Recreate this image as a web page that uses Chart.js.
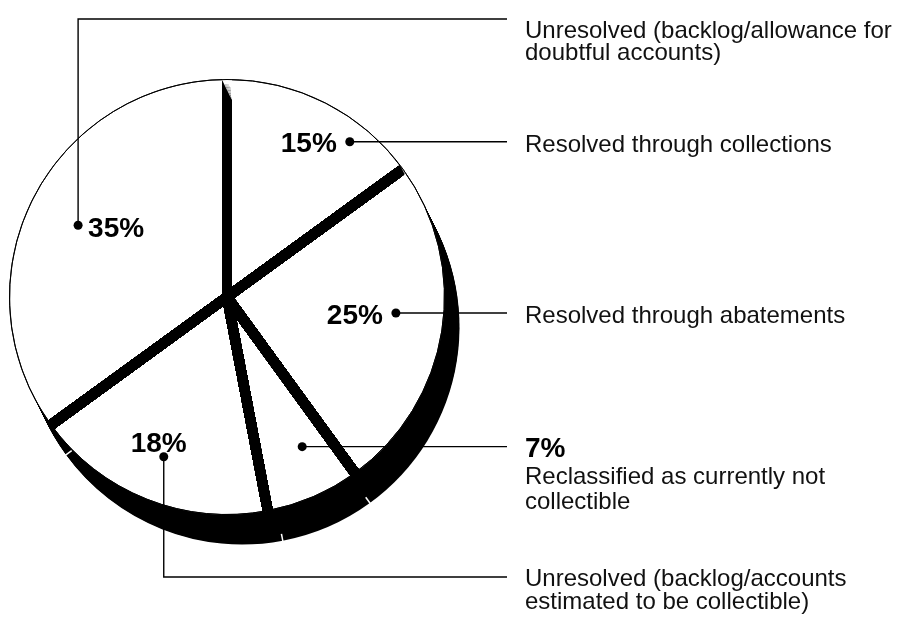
<!DOCTYPE html>
<html>
<head>
<meta charset="utf-8">
<script src="https://cdn.jsdelivr.net/npm/chart.js@4/dist/chart.umd.min.js"></script>
<style>
  html, body { margin: 0; padding: 0; background: #fff; }
  #pie { display: block; }
</style>
</head>
<body>
<canvas id="pie" width="902" height="620"></canvas>
<script>
// Parts of the pie, clockwise from 12 o'clock
const categories = [
  'Resolved through collections',
  'Resolved through abatements',
  'Reclassified as currently not collectible',
  'Unresolved (backlog/accounts estimated to be collectible)',
  'Unresolved (backlog/allowance for doubtful accounts)'
];
const shares = [15, 25, 7, 18, 35];
const percentLabels = ['15%', '25%', '7%', '18%', '35%'];
// callout text on the right, one list of lines per part
const calloutLines = [
  ['Resolved through collections'],
  ['Resolved through abatements'],
  ['Reclassified as currently not', 'collectible'],
  ['Unresolved (backlog/accounts', 'estimated to be collectible)'],
  ['Unresolved (backlog/allowance for', 'doubtful accounts)']
];

// --- look and layout ---
const FONT = '"Liberation Sans", Arial, Helvetica, sans-serif';
const DEPTH = { x: 15, y: 30 };   // how far the black "side" of the pie drops
const GAP = 10;                   // width of the black cuts between slices
const TEXT_X = 525;               // left edge of the callout column
const LEADER_END = 507;
// where the dot sits in each slice: [fraction of the slice angle, fraction of the radius]
const dotSpots = [[0.71, 0.91], [0.46, 0.78], [0.37, 0.77], [0.5, 0.79], [0.49, 0.76]];
const callouts = [
  { pct: { align: 'right', dx: -13, dy: 10 }, route: 'across', textDy: 10, lineH: 23 },
  { pct: { align: 'right', dx: -13, dy: 11 }, route: 'across', textDy: 10, lineH: 23 },
  { pct: null, route: 'across', textDy: 10, lineH: 25, head: true },
  { pct: { align: 'center', dx: -5, dy: -5 }, route: 'down', turnY: 577, textDy: 9, lineH: 23 },
  { pct: { align: 'left', dx: 10, dy: 12 }, route: 'up', turnY: 19, textDy: 19, lineH: 22 }
];

function arcGeom(el) {
  return el.getProps(['x', 'y', 'startAngle', 'endAngle', 'outerRadius'], true);
}

// black extruded side under the slices, cuts between slices and small notches
const depthPie = {
  id: 'depthPie',
  beforeDatasetsDraw(chart) {
    const ctx = chart.ctx;
    const arcs = chart.getDatasetMeta(0).data.map(arcGeom);
    ctx.save();
    ctx.fillStyle = '#000';
    const steps = 40;
    for (let i = 1; i <= steps; i++) {
      const ox = DEPTH.x * i / steps, oy = DEPTH.y * i / steps;
      arcs.forEach(a => {
        ctx.beginPath();
        ctx.moveTo(a.x + ox, a.y + oy);
        ctx.arc(a.x + ox, a.y + oy, a.outerRadius, a.startAngle, a.endAngle);
        ctx.closePath();
        ctx.fill();
      });
    }
    ctx.restore();
  },
  afterDatasetsDraw(chart) {
    const ctx = chart.ctx;
    const arcs = chart.getDatasetMeta(0).data.map(arcGeom);

    // the cuts: we see the dropped side of the pie through them
    arcs.forEach(a => {
      const R = a.outerRadius;
      const dx = Math.cos(a.startAngle), dy = Math.sin(a.startAngle);
      const nx = -dy * GAP / 2, ny = dx * GAP / 2;
      const strip = (ox, oy) => {
        ctx.moveTo(a.x + ox + nx, a.y + oy + ny);
        ctx.lineTo(a.x + ox + R * dx + nx, a.y + oy + R * dy + ny);
        ctx.lineTo(a.x + ox + R * dx - nx, a.y + oy + R * dy - ny);
        ctx.lineTo(a.x + ox - nx, a.y + oy - ny);
        ctx.closePath();
      };
      ctx.save();
      ctx.beginPath();
      strip(0, 0);
      ctx.clip();
      ctx.fillStyle = '#fff';
      ctx.fillRect(0, 0, chart.width, chart.height);
      ctx.fillStyle = '#000';
      const steps = 120;
      for (let i = 1; i <= steps; i++) {
        const t = 3 * i / steps;
        const ox = DEPTH.x * t, oy = DEPTH.y * t;
        ctx.beginPath();
        ctx.arc(a.x + ox, a.y + oy, R, 0, Math.PI * 2);
        strip(ox, oy);
        ctx.fill('evenodd');
      }
      ctx.restore();
    });

    // thin outline round the top face
    ctx.save();
    ctx.strokeStyle = '#000';
    ctx.lineWidth = 1;
    arcs.forEach(a => {
      ctx.beginPath();
      ctx.arc(a.x, a.y, a.outerRadius, a.startAngle, a.endAngle);
      ctx.stroke();
    });

    // small white notches where the side pieces meet
    ctx.strokeStyle = '#fff';
    ctx.lineWidth = 1.5;
    arcs.forEach(a => {
      const R = a.outerRadius;
      const dx = Math.cos(a.startAngle), dy = Math.sin(a.startAngle);
      const px = a.x + R * dx + DEPTH.x, py = a.y + R * dy + DEPTH.y;
      if (Math.hypot(px - a.x, py - a.y) <= R) return;
      ctx.beginPath();
      ctx.moveTo(px + dx, py + dy);
      ctx.lineTo(px - 7 * dx, py - 7 * dy);
      ctx.stroke();
    });
    ctx.restore();
  },
  afterDraw(chart) {
    const ctx = chart.ctx;
    const arcs = chart.getDatasetMeta(0).data.map(arcGeom);
    ctx.save();
    ctx.strokeStyle = '#000';
    ctx.fillStyle = '#000';
    ctx.lineWidth = 1.4;
    ctx.textBaseline = 'alphabetic';

    arcs.forEach((a, i) => {
      const c = callouts[i];
      const ang = a.startAngle + (a.endAngle - a.startAngle) * dotSpots[i][0];
      const r = a.outerRadius * dotSpots[i][1];
      const px = a.x + r * Math.cos(ang), py = a.y + r * Math.sin(ang);

      // leader line
      ctx.beginPath();
      ctx.moveTo(px, py);
      let ly = py;
      if (c.route !== 'across') {
        ly = c.turnY;
        ctx.lineTo(px, ly);
      }
      ctx.lineTo(LEADER_END, ly);
      ctx.stroke();

      // dot
      ctx.beginPath();
      ctx.arc(px, py, 4.5, 0, Math.PI * 2);
      ctx.fill();

      // percentage next to the dot
      if (c.pct) {
        ctx.font = 'bold 28px ' + FONT;
        ctx.textAlign = c.pct.align;
        ctx.fillText(percentLabels[i], px + c.pct.dx, py + c.pct.dy);
      }

      // callout text
      ctx.textAlign = 'left';
      let y = ly + c.textDy;
      if (c.head) {
        ctx.font = 'bold 28px ' + FONT;
        ctx.fillText(percentLabels[i], TEXT_X, y);
        y += 27;
      }
      ctx.font = '24px ' + FONT;
      ctx.fillStyle = '#111';
      calloutLines[i].forEach((line, k) => {
        ctx.fillText(line, TEXT_X, y + k * c.lineH);
      });
      ctx.fillStyle = '#000';
    });
    ctx.restore();
  }
};

new Chart(document.getElementById('pie'), {
  type: 'pie',
  data: {
    labels: categories,
    datasets: [{
      data: shares,
      backgroundColor: '#fff',
      borderColor: '#000',
      borderWidth: 1,
      hoverOffset: 0,
      offset: 0
    }]
  },
  options: {
    responsive: false,
    animation: false,
    events: [],
    layout: { padding: { left: 9, top: 79, right: 457, bottom: 105 } },
    plugins: {
      legend: { display: false },
      tooltip: { enabled: false }
    }
  },
  plugins: [depthPie]
});
</script>
</body>
</html>
